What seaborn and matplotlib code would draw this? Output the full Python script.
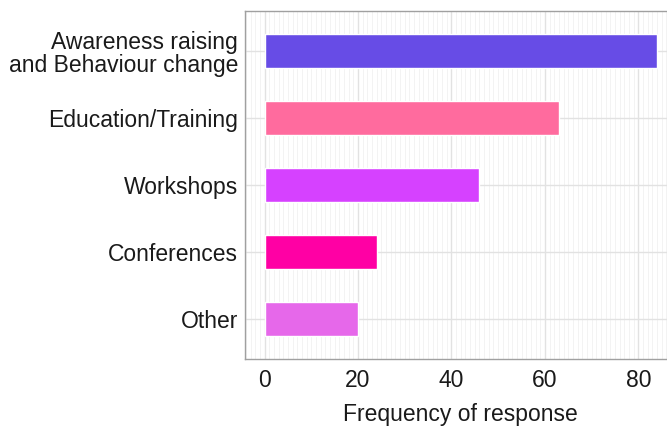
import matplotlib
matplotlib.use('Agg')
import pandas as pd
import matplotlib.pyplot as plt
import seaborn as sns
from matplotlib.ticker import MultipleLocator

categories = ["Awareness raising\nand Behaviour change", "Education/Training",
              "Workshops", "Conferences", "Other"]
counts = [84, 63, 46, 24, 20]
colors = ["#674ce6", "#ff6b9e", "#d641ff", "#ff00a4", "#e668ea"]

df = pd.DataFrame({"category": categories, "count": counts})

sns.set_style("white")
plt.rcParams['font.family'] = ['Liberation Sans', 'DejaVu Sans']

fig = plt.figure(figsize=(6.67, 4.26), dpi=100)
# panel is cut off on the right in the original
ax = fig.add_axes([245 / 667, 67 / 426, 431.6 / 667, 348 / 426])

sns.barplot(data=df, x="count", y="category", hue="category", palette=colors,
            orient="h", width=0.5, legend=False, ax=ax, saturation=1, zorder=3)

ax.set_xlim(-4.2, 88.2)
ax.set_ylim(4.6, -0.6)
ax.xaxis.set_major_locator(MultipleLocator(20))
ax.xaxis.set_minor_locator(MultipleLocator(1))
ax.grid(True, which="major", axis="both", color="#e2e2e2", linewidth=1.0, zorder=0)
ax.grid(True, which="minor", axis="x", color="#efefef", linewidth=0.5, zorder=0)
ax.set_axisbelow(True)

for s in ax.spines.values():
    s.set_color("#a0a0a0")
    s.set_linewidth(1.0)

ax.tick_params(axis="both", which="major", length=3, width=1, color="#a0a0a0",
               labelsize=16.5, labelcolor="#1a1a1a", pad=2)
ax.tick_params(axis="x", which="minor", length=0)
ax.tick_params(axis="x", which="major", pad=4)
for lab in ax.get_yticklabels():
    lab.set_multialignment("right")
    lab.set_linespacing(1.0)

ax.set_ylabel("")
ax.set_xlabel("Frequency of response", fontsize=16.5, color="#1a1a1a", labelpad=8)

fig.savefig("out.png", dpi=100)
